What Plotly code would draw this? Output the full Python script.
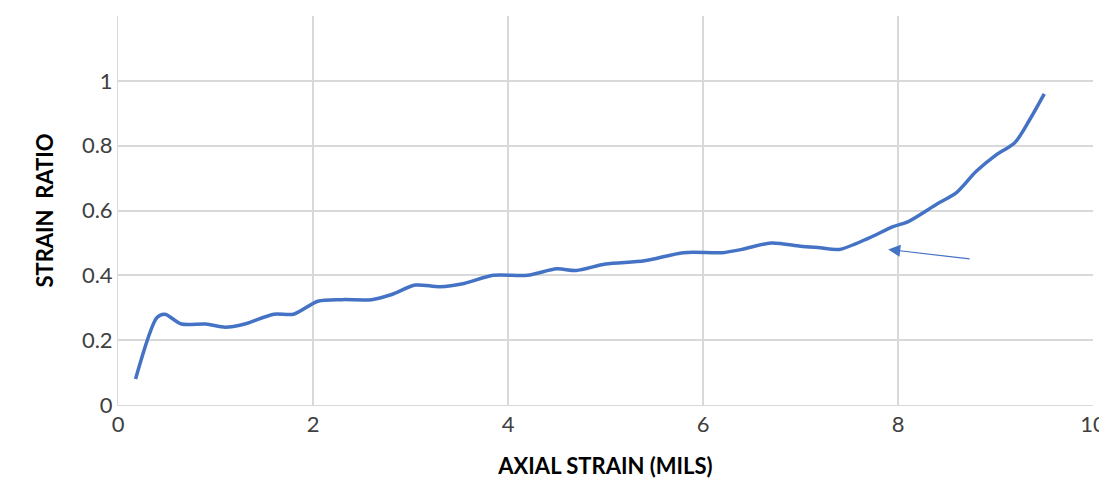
import plotly.graph_objects as go

axial_strain = [0.18, 0.4, 0.48, 0.65, 0.9, 1.1, 1.3, 1.6, 1.8, 2.05, 2.3, 2.6, 2.8,
                3.05, 3.3, 3.55, 3.85, 4.2, 4.5, 4.7, 5.0, 5.4, 5.8, 6.2, 6.4, 6.7,
                7.0, 7.2, 7.4, 7.7, 7.95, 8.1, 8.4, 8.6, 8.8, 9.0, 9.2, 9.35, 9.5]
strain_ratio = [0.08, 0.27, 0.28, 0.25, 0.25, 0.24, 0.25, 0.28, 0.28, 0.32, 0.325, 0.325, 0.34,
                0.37, 0.365, 0.375, 0.40, 0.40, 0.42, 0.415, 0.435, 0.445, 0.47, 0.47, 0.48, 0.50,
                0.49, 0.485, 0.48, 0.515, 0.55, 0.565, 0.62, 0.655, 0.72, 0.77, 0.81, 0.88, 0.96]

fig = go.Figure(go.Scatter(
    x=axial_strain, y=strain_ratio, mode="lines",
    line=dict(color="#4472C4", width=3.5, shape="spline", smoothing=0.8),
))

# arrow pointing at the curve
fig.add_annotation(x=7.9, y=0.48, ax=8.75, ay=0.45, xref="x", yref="y", axref="x", ayref="y",
                   text="", showarrow=True, arrowhead=2, arrowsize=2, arrowwidth=1.2,
                   arrowcolor="#4472C4")

grid = "#D9D9D9"
tickfont = dict(family="Lato, sans-serif", size=22, color="#404040")
titlefont = dict(family="Lato, sans-serif", size=22, color="#000")
fig.update_layout(
    width=1107, height=504, plot_bgcolor="white", paper_bgcolor="white",
    margin=dict(l=110, r=22, t=8, b=107),
    font=dict(family="Lato, sans-serif", size=22, color="#404040"),
    showlegend=False,
    xaxis=dict(range=[0, 10], dtick=2, showgrid=True, gridcolor=grid, gridwidth=1.5,
               zeroline=False, showline=True, linecolor=grid, ticks="", tickfont=tickfont,
               title=dict(text="<b>AXIAL STRAIN (MILS)</b>", font=titlefont, standoff=22)),
    yaxis=dict(range=[0, 1.2], showgrid=True, gridcolor=grid, gridwidth=1.5,
               zeroline=False, showline=True, linecolor=grid, ticks="", tickfont=tickfont,
               tickvals=[0, 0.2, 0.4, 0.6, 0.8, 1, 1.2],
               ticktext=["0", "0.2", "0.4", "0.6", "0.8", "1", "1.2"],
               title=dict(text="<b>STRAIN  RATIO</b>", font=titlefont, standoff=22)),
)

fig.write_html("out.html")
